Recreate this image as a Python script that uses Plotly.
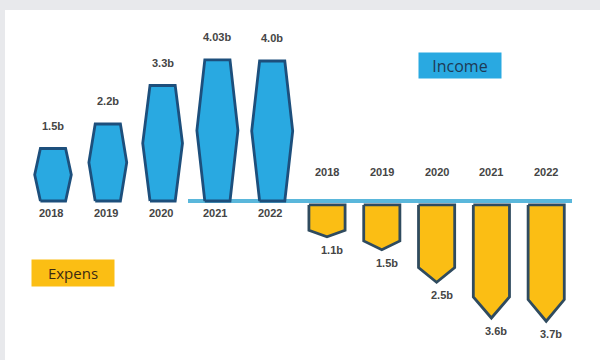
import plotly.graph_objects as go

years = ["2018", "2019", "2020", "2021", "2022"]
income = [1.5, 2.2, 3.3, 4.03, 4.0]
income_labels = ["1.5b", "2.2b", "3.3b", "4.03b", "4.0b"]
expense = [1.1, 1.5, 2.5, 3.6, 3.7]
expense_labels = ["1.1b", "1.5b", "2.5b", "3.6b", "3.7b"]

BLUE = "#29a9e1"
BLUE_EDGE = "#1d4f7c"
YELLOW = "#fbbe14"
YELLOW_EDGE = "#2f4b5f"
TEXT = "#454545"
FONT = "Liberation Sans"

W, H = 600, 360
ML, MT = 5, 10
X0PX, XSTEP = 53, 54.8
ZERO_PX = 201
INC_SCALE = 35.0
EXP_SCALE = 32.5

fig = go.Figure()

# income hexagons
for i, v in enumerate(income):
    hw_max = 0.31 + 0.016 * v
    hw_n = 0.23
    xs = [i - hw_n, i - hw_max, i - hw_n, i + hw_n, i + hw_max, i + hw_n, i - hw_n]
    ys = [0, v / 2, v, v, v / 2, 0, 0]
    fig.add_trace(go.Scatter(x=xs, y=ys, mode="lines", fill="toself", fillcolor=BLUE,
                             line=dict(color=BLUE_EDGE, width=2.8), hoverinfo="skip",
                             showlegend=False))

# expense arrows (second axis)
GAP = 0.12
for j, v in enumerate(expense):
    c = 5 + j
    hw = 0.33
    tip = 0.18 * v
    xs = [c - hw, c + hw, c + hw, c, c - hw, c - hw]
    ys = [-GAP, -GAP, -(v - tip), -v, -(v - tip), -GAP]
    fig.add_trace(go.Scatter(x=xs, y=ys, mode="lines", fill="toself", fillcolor=YELLOW,
                             line=dict(color=YELLOW_EDGE, width=2.8), hoverinfo="skip",
                             showlegend=False, yaxis="y2"))

ann = []
tfont = dict(family=FONT, size=11, color=TEXT, weight="bold")
for i, (v, lab) in enumerate(zip(income, income_labels)):
    ann.append(dict(x=i, y=v, xref="x", yref="y", text=lab, showarrow=False,
                    yshift=23, font=tfont))
    ann.append(dict(x=i, y=0, xref="x", yref="y", text=years[i], showarrow=False,
                    yshift=-12, xshift=-2, font=tfont))
for j, (v, lab) in enumerate(zip(expense, expense_labels)):
    c = 5 + j
    ann.append(dict(x=c, y=-v, xref="x", yref="y2", text=lab, showarrow=False,
                    yshift=-13, xshift=5, font=tfont))
    ann.append(dict(x=c, y=0, xref="x", yref="y2", text=years[j], showarrow=False,
                    yshift=29, font=tfont))

def px2paper_x(px):
    return (px - ML) / (W - ML)

def px2paper_y(py):
    return 1 - (py - MT) / (H - MT)

# legend-like boxes
ann.append(dict(x=px2paper_x(460), y=px2paper_y(65.5), xref="paper", yref="paper",
                xanchor="center", yanchor="middle",
                text="Income", showarrow=False, bgcolor=BLUE, width=80, height=23,
                font=dict(family="Open Sans", size=16, color="#1e3a55")))
ann.append(dict(x=px2paper_x(73), y=px2paper_y(273), xref="paper", yref="paper",
                xanchor="center", yanchor="middle",
                text="Expens", showarrow=False, bgcolor=YELLOW, width=80, height=24,
                align="center",
                font=dict(family="Open Sans", size=15, color="#3b2a12")))

xr = [(ML - X0PX) / XSTEP, (W - X0PX) / XSTEP]
fig.update_layout(
    width=W, height=H, margin=dict(l=ML, r=0, t=MT, b=0),
    paper_bgcolor="#e8e9ec", plot_bgcolor="#ffffff",
    xaxis=dict(range=xr, visible=False, fixedrange=True),
    yaxis=dict(range=[-(H - ZERO_PX) / INC_SCALE, (ZERO_PX - MT) / INC_SCALE],
               visible=False, fixedrange=True),
    yaxis2=dict(range=[-(H - ZERO_PX) / EXP_SCALE, (ZERO_PX - MT) / EXP_SCALE],
                visible=False, overlaying="y", fixedrange=True),
    annotations=ann,
    shapes=[dict(type="line", xref="x", yref="y", x0=(188 - X0PX) / XSTEP,
                 x1=(572 - X0PX) / XSTEP, y0=0, y1=0, layer="below",
                 line=dict(color="#5ab7db", width=4))],
    showlegend=False,
)

fig.write_html("out.html", config={"displayModeBar": False})
